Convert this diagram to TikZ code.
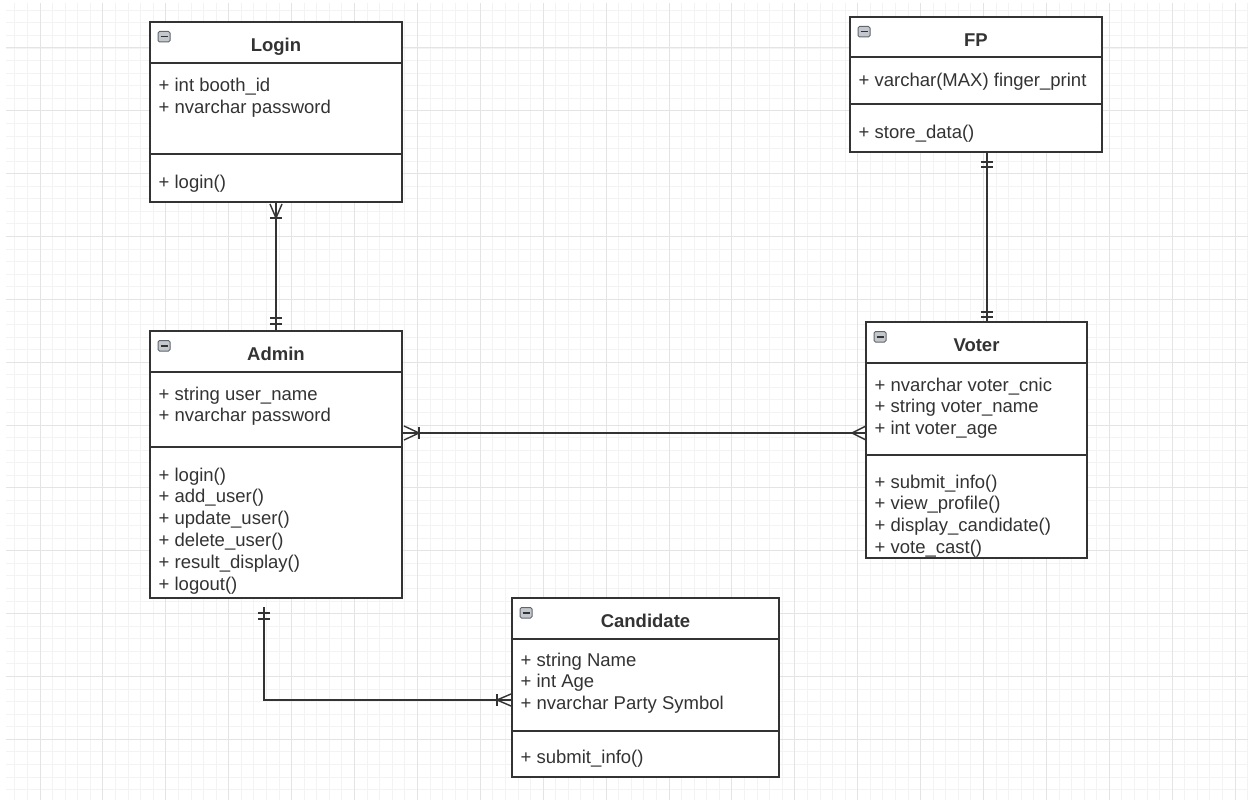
\documentclass[tikz,border=0pt]{standalone}
\usepackage{fontspec}
\setmainfont{Liberation Sans}
\usetikzlibrary{calc}

\definecolor{ink}{HTML}{333333}
\definecolor{gridmajor}{HTML}{E4E4E4}
\definecolor{gridminor}{HTML}{F3F3F3}
\definecolor{iconfill}{HTML}{C4C8CC}
\definecolor{iconedge}{HTML}{5F666E}

% class frame: #1 name, #2 left, #3 top, #4 right, #5 bottom,
% #6 header bottom, #7 member divider, #8 title
\newcommand\classframe[8]{%
  \node[classbox, minimum width={#4-#2}, minimum height={#5-#3}]
    (#1) at ({(#2+#4)/2},{(#3+#5)/2}) {};
  \draw[sep] (#2,#6) -- (#4,#6);
  \draw[sep] (#2,#7) -- (#4,#7);
  \node[classtitle] (#1-title) at ({(#2+#4)/2},{#3+29.5}) {#8};
  \draw[iconbox] (#2+8,#3+9.5) rectangle (#2+20,#3+20);
  \draw[iconminus] (#2+10.5,#3+14.75) -- (#2+17.5,#3+14.75);
}

% member lines: #1 name prefix, #2 x, #3 first baseline, #4 lines
\newcommand\memberlines[4]{%
  \foreach \t [count=\i from 0] in {#4} {
    \node[member] (#1\i) at (#2,{#3+21.9*\i}) {\t};
  }
}

\begin{document}
\begin{tikzpicture}[x=1pt,y=-1pt,
  classbox/.style={rectangle, draw=ink, line width=1.4pt, fill=white,
    inner sep=0pt, outer sep=0pt},
  sep/.style={draw=ink, line width=1.4pt},
  classtitle/.style={anchor=base, inner sep=0pt, text=ink,
    font=\fontsize{18.5}{22}\selectfont\bfseries},
  member/.style={anchor=base west, inner sep=0pt, text=ink,
    font=\fontsize{18.5}{22}\selectfont},
  iconbox/.style={draw=iconedge, line width=1pt, fill=iconfill,
    rounded corners=1.5pt},
  iconminus/.style={draw=ink, line width=1.5pt},
  conn/.style={draw=ink, line width=1.4pt},
  endmark/.style={draw=ink, line width=1.4pt},
  ]

\useasboundingbox (0,0) rectangle (1248,800);
\fill[white] (0,0) rectangle (1248,800);

% background grid
\begin{scope}
  \clip (6,3) rectangle (1248,800);
  \foreach \i in {0,...,99}
    \draw[gridminor, line width=1pt] ({2.3+12.58*\i},3) -- ++(0,797);
  \foreach \i in {0,...,63}
    \draw[gridminor, line width=1pt] (6,{10.3+12.57*\i}) -- ++(1242,0);
  \foreach \k in {0,...,19}
    \draw[gridmajor, line width=1pt] ({40+62.9*\k},3) -- ++(0,797);
  \foreach \k in {0,...,12}
    \draw[gridmajor, line width=1pt] (6,{48+62.85*\k}) -- ++(1242,0);
\end{scope}

% classes
\classframe{login}{150}{22}{402}{202}{63}{154}{Login}
\memberlines{login-a}{158.5}{92}{+ int booth\_id, + nvarchar password}
\memberlines{login-m}{158.5}{188}{+ login()}

\classframe{fp}{850}{17}{1102}{152}{57}{104}{FP}
\memberlines{fp-a}{858.5}{86}{+ varchar(MAX) finger\_print}
\memberlines{fp-m}{858.5}{138}{+ store\_data()}

\classframe{admin}{150}{331}{402}{598}{372}{447}{Admin}
\memberlines{admin-a}{158.5}{400}{+ string user\_name, + nvarchar password}
\memberlines{admin-m}{158.5}{481}{+ login(), + add\_user(), + update\_user(),
  + delete\_user(), + result\_display(), + logout()}

\classframe{voter}{866}{322}{1087}{558}{363}{455}{Voter}
\memberlines{voter-a}{874.5}{391}{+ nvarchar voter\_cnic, + string voter\_name,
  + int voter\_age}
\memberlines{voter-m}{874.5}{488}{+ submit\_info(), + view\_profile(),
  + display\_candidate(), + vote\_cast()}

\classframe{candidate}{512}{598}{779}{777}{639}{731}{Candidate}
\memberlines{candidate-a}{520.5}{666}{+ string Name, + int Age,
  + nvarchar Party Symbol}
\memberlines{candidate-m}{520.5}{763}{+ submit\_info()}

% helper lines for the connector routes
\coordinate (avy) at (0,433);
\coordinate (fvx) at (987,0);
\coordinate (acx) at (264,0);
\coordinate (acy) at (0,700);

% end points of the connectors
\coordinate (la) at (login.south);
\coordinate (at) at (admin.north);
\coordinate (ae) at (admin.east |- avy);
\coordinate (vw) at (voter.west |- avy);
\coordinate (fs) at (fp.south -| fvx);
\coordinate (vn) at (voter.north -| fvx);
\coordinate (as) at (admin.south -| acx);
\coordinate (cw) at (candidate.west |- acy);

% connectors
\draw[conn] (la) -- (at);
\draw[conn] (ae) -- (vw);
\draw[conn] (fs) -- (vn);
\draw[conn, shorten <=9pt] (as) |- (cw);

% Login: one or many
\draw[endmark] ($(la)+(-6,2)$) -- ($(la)+(0,16)$) -- ($(la)+(6,2)$);
\draw[endmark] ($(la)+(-6,16)$) -- ($(la)+(6,16)$);
% Admin (top): exactly one
\draw[endmark] ($(at)+(-6,-13)$) -- ($(at)+(6,-13)$);
\draw[endmark] ($(at)+(-6,-7)$) -- ($(at)+(6,-7)$);
% Admin (right): one or many
\draw[endmark] ($(ae)+(2,-7)$) -- ($(ae)+(17,0)$) -- ($(ae)+(2,7)$);
\draw[endmark] ($(ae)+(17,-6)$) -- ($(ae)+(17,6)$);
% Voter (left): many
\draw[endmark] ($(vw)+(0,-7)$) -- ($(vw)+(-14,0)$) -- ($(vw)+(0,7)$);
% FP: exactly one
\draw[endmark] ($(fs)+(-6,10)$) -- ($(fs)+(6,10)$);
\draw[endmark] ($(fs)+(-6,15)$) -- ($(fs)+(6,15)$);
% Voter (top): exactly one
\draw[endmark] ($(vn)+(-6,-10)$) -- ($(vn)+(6,-10)$);
\draw[endmark] ($(vn)+(-6,-5)$) -- ($(vn)+(6,-5)$);
% Admin (bottom): exactly one
\draw[endmark] ($(as)+(-6,15)$) -- ($(as)+(6,15)$);
\draw[endmark] ($(as)+(-6,21)$) -- ($(as)+(6,21)$);
% Candidate: one or many
\draw[endmark] ($(cw)+(-1,-6)$) -- ($(cw)+(-15,0)$) -- ($(cw)+(-1,6)$);
\draw[endmark] ($(cw)+(-15,-6)$) -- ($(cw)+(-15,6)$);

\end{tikzpicture}
\end{document}
